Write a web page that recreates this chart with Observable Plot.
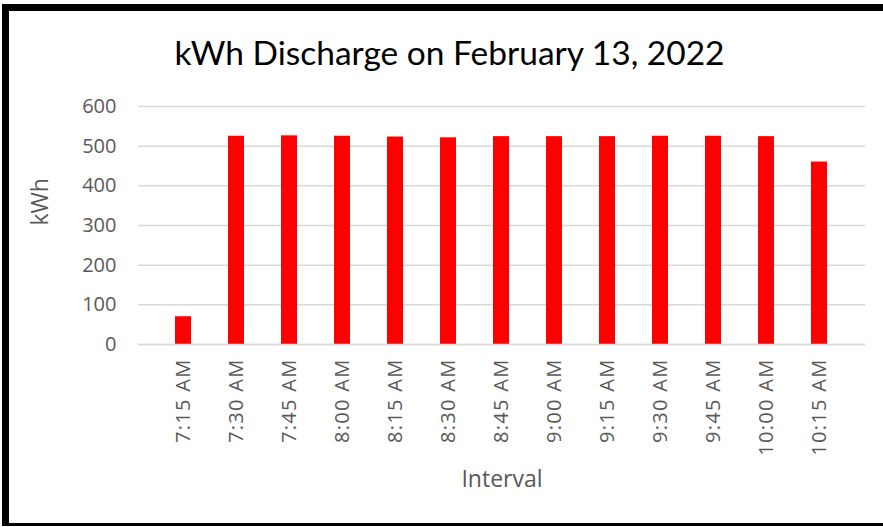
<!DOCTYPE html>
<html>
<head>
<meta charset="utf-8">
<script src="https://cdn.jsdelivr.net/npm/d3@7"></script>
<script src="https://cdn.jsdelivr.net/npm/@observablehq/plot@0.6"></script>
<style>
  html, body { margin: 0; padding: 0; background: #fff; }
  #wrap { position: relative; width: 883px; height: 527px; overflow: hidden; background: #fff; }
  #frame { position: absolute; left: 2px; top: 4px; width: 900px; height: 512px;
           border-top: 7px solid #000; border-left: 7px solid #000; border-bottom: 3px solid #000; }
  #title { position: absolute; left: 8px; top: 30px; width: 883px; text-align: center;
           font-family: Lato, "Open Sans", sans-serif; font-size: 33.5px; color: #000; line-height: 44px; }
  #chart { position: absolute; left: 0; top: 90px; }
</style>
</head>
<body>
<div id="wrap">
  <div id="frame"></div>
  <div id="title">kWh Discharge on February 13, 2022</div>
  <div id="chart"></div>
</div>
<script>
const intervals = ["7:15 AM","7:30 AM","7:45 AM","8:00 AM","8:15 AM","8:30 AM","8:45 AM","9:00 AM","9:15 AM","9:30 AM","9:45 AM","10:00 AM","10:15 AM"];
const kwh = [70, 525, 526, 525, 523, 521, 524, 524, 524, 525, 525, 524, 460];
const yTicks = [0, 100, 200, 300, 400, 500, 600];
const yLabel = "kWh";
const xLabel = "Interval";

const data = intervals.map((t, i) => ({interval: t, kwh: kwh[i]}));

const chart = Plot.plot({
  width: 883,
  height: 437,
  marginTop: 16,
  marginBottom: 183,
  marginLeft: 138,
  marginRight: 18,
  style: {fontFamily: "'Open Sans', sans-serif", background: "transparent", overflow: "visible"},
  x: {domain: intervals, padding: 0.69, label: null},
  y: {domain: [0, 600], label: null},
  marks: [
    Plot.gridY(yTicks, {stroke: "#d9d9d9", strokeOpacity: 1, strokeWidth: 1.5}),
    Plot.barY(data, {x: "interval", y: "kwh", fill: "#ff0000"}),
    Plot.axisY(yTicks, {tickSize: 0, tickPadding: 22, fontSize: 20, fill: "#595959", label: null}),
    Plot.axisX({tickSize: 0, tickPadding: 14, tickRotate: -90, fontSize: 20, fill: "#595959", label: null}),
    Plot.ruleY([0], {stroke: "#d9d9d9", strokeWidth: 1.5}),
    Plot.text([yLabel], {frameAnchor: "left", dx: -98, rotate: -90, fontSize: 23, fill: "#595959"}),
    Plot.text([xLabel], {frameAnchor: "bottom", dy: 142, fontSize: 23, fill: "#595959"})
  ]
});
d3.select(chart).selectAll("g[aria-label='x-axis tick label'] text").style("letter-spacing", "1.3px");
document.getElementById("chart").appendChild(chart);
</script>
</body>
</html>
